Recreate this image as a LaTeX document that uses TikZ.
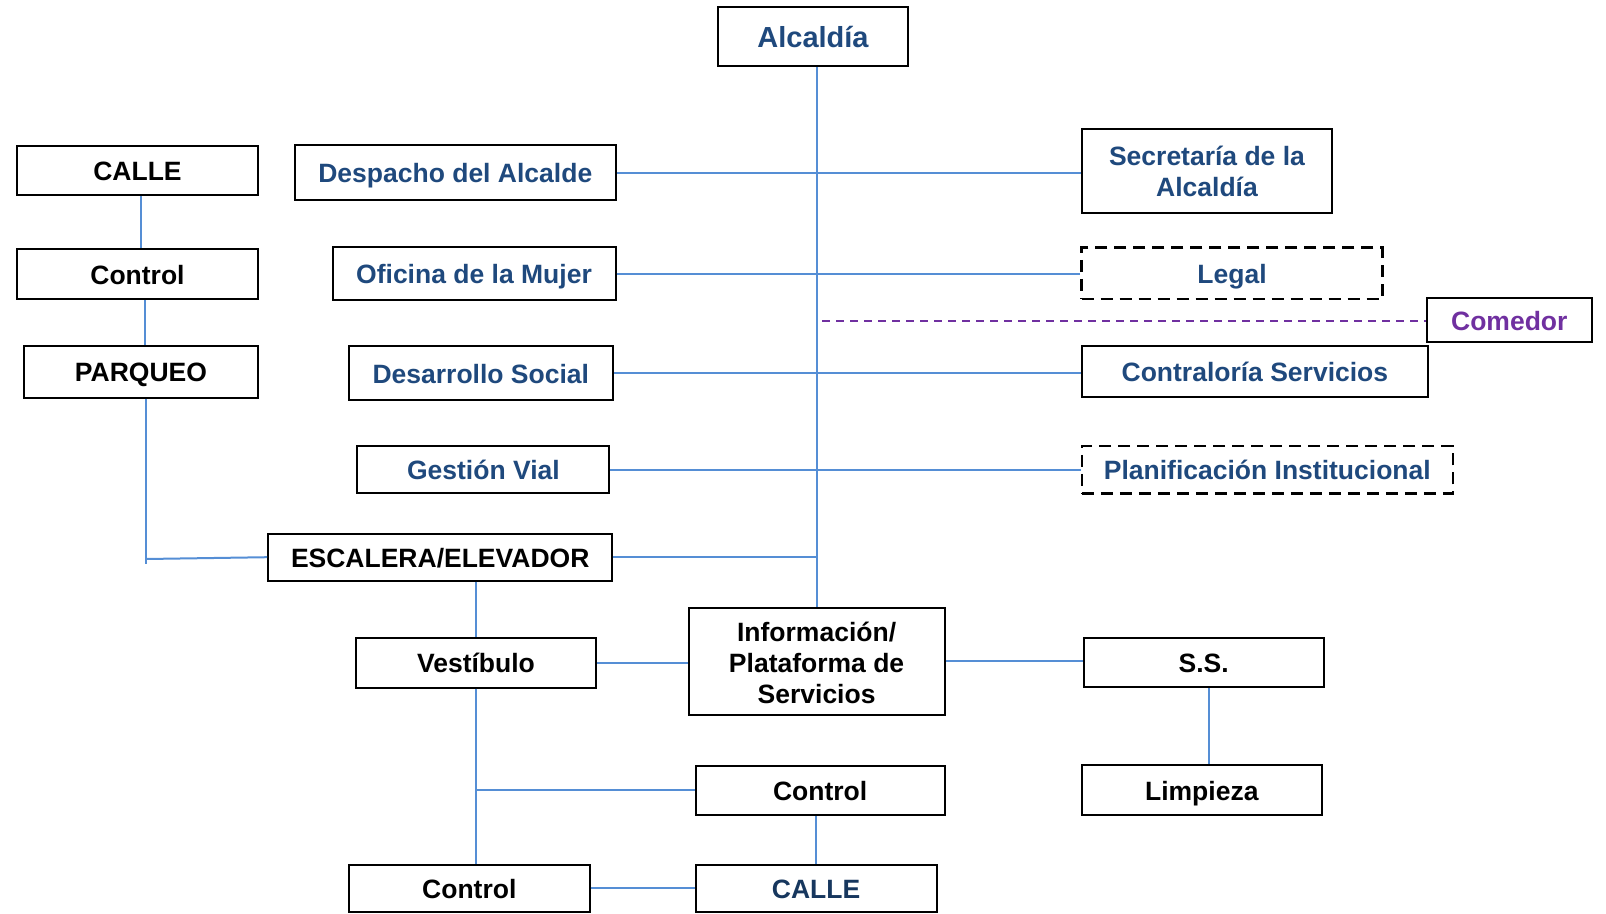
\documentclass[tikz,border=0pt]{standalone}
\usepackage{fontspec}
\setmainfont{Liberation Sans}
\definecolor{tblue}{RGB}{31,73,125}
\definecolor{tblue2}{RGB}{23,55,94}
\definecolor{lblue}{RGB}{85,142,213}
\definecolor{tpurple}{RGB}{112,48,160}
\tikzset{
  mbox/.style={draw=black, line width=2pt, inner sep=0pt, align=center,
    font=\fontsize{26.5}{31}\selectfont\bfseries, fill=white},
  box/.style={mbox, text height=20.5pt, text depth=0.5pt},
  bluebox/.style={box, text=tblue},
  dbox/.style={box, text=tblue, dash pattern=on 12pt off 7pt, line width=2.5pt},
  link/.style={draw=lblue, line width=2pt},
  plink/.style={draw=tpurple, line width=1.8pt, dash pattern=on 8pt off 6pt},
}
\begin{document}
\begin{tikzpicture}[x=1pt,y=-1pt]
\useasboundingbox (0,0) rectangle (1606,913);
% nodes
\node[bluebox, font=\fontsize{29}{33}\selectfont\bfseries, text height=22pt, text depth=0.5pt, minimum width=190pt, minimum height=59pt] (alc) at (813,36.5) {Alcaldía};
\node[box, minimum width=241pt, minimum height=49pt] (calle1) at (137.5,170.5) {CALLE};
\node[bluebox, minimum width=321.5pt, minimum height=55pt] (desp) at (455.3,172.5) {Despacho del Alcalde};
\node[mbox, text=tblue, minimum width=250pt, minimum height=84pt] (sec) at (1207,171) {Secretaría de la\\Alcaldía};
\node[box, minimum width=241pt, minimum height=50pt] (ctrl1) at (137.5,274) {Control};
\node[bluebox, minimum width=283pt, minimum height=53pt] (ofi) at (474,273.7) {Oficina de la Mujer};
\node[dbox, minimum width=300.7pt, minimum height=51.3pt] (legal) at (1232,273.3) {Legal};
\node[box, text=tpurple, minimum width=164.6pt, minimum height=44pt] (com) at (1509.3,320.3) {Comedor};
\node[box, minimum width=234pt, minimum height=51.7pt] (parq) at (141,371.9) {PARQUEO};
\node[bluebox, minimum width=264.5pt, minimum height=54pt] (des) at (480.8,373) {Desarrollo Social};
\node[bluebox, minimum width=346.3pt, minimum height=51pt] (contr) at (1254.9,371.8) {Contraloría Servicios};
\node[bluebox, minimum width=252pt, minimum height=47pt] (gest) at (483.4,469.5) {Gestión Vial};
\node[dbox, minimum width=371pt, minimum height=47.3pt] (plan) at (1267.3,469.7) {Planificación Institucional};
\node[box, minimum width=344pt, minimum height=47pt] (esc) at (440.2,557.2) {ESCALERA/ELEVADOR};
\node[box, minimum width=240.6pt, minimum height=50pt] (vest) at (476,662.7) {Vestíbulo};
\node[mbox, minimum width=256pt, minimum height=107pt] (info) at (816.6,661.4) {\rule{0pt}{23pt}Información/\\Plataforma de\\Servicios};
\node[box, minimum width=240pt, minimum height=49.3pt] (ss) at (1203.6,662.7) {S.S.};
\node[box, minimum width=249pt, minimum height=49.3pt] (ctrl2) at (820.1,790.4) {Control};
\node[box, minimum width=240.3pt, minimum height=49.7pt] (limp) at (1201.8,790.2) {Limpieza};
\node[box, minimum width=240.6pt, minimum height=46.8pt] (ctrl3) at (469.3,888.1) {Control};
\node[box, text=tblue2, minimum width=241pt, minimum height=47pt] (calle2) at (816.1,888) {CALLE};
% coordinates
\coordinate (dstart) at (822,321);
\coordinate (cx) at (140.6,0);
\coordinate (px) at (145,0);
\coordinate (pj) at (146,559);
\coordinate (pend) at (146,564);
% connectors
\draw[link] (alc.south -| info.north) -- (info.north);
\draw[link] (desp.east) -- (desp.east -| sec.west);
\draw[link] (ofi.east) -- (ofi.east -| legal.west);
\draw[link] (des.east) -- (des.east -| contr.west);
\draw[link] (gest.east) -- (gest.east -| plan.west);
\draw[plink] (dstart) -- (dstart -| com.west);
\draw[link] (esc.east) -- (esc.east -| info.north);
\draw[link] (calle1.south -| cx) -- (ctrl1.north -| cx);
\draw[link] (ctrl1.south -| px) -- (parq.north -| px);
\draw[link] (parq.south -| pj) -- (pend);
\draw[link] (pj) -- (esc.west);
\draw[link] (esc.south -| vest.north) -- (vest.north);
\draw[link] (vest.east) -- (vest.east -| info.west);
\draw[link] (info.east) -- (info.east -| ss.west);
\draw[link] ([xshift=5pt]ss.south) -- ([xshift=5pt]ss.south |- limp.north);
\draw[link] (vest.south) -- (vest.south |- ctrl3.north);
\draw[link] (vest.south |- ctrl2.west) -- (ctrl2.west);
\draw[link] (calle2.north |- ctrl2.south) -- (calle2.north);
\draw[link] (ctrl3.east) -- (ctrl3.east -| calle2.west);
\end{tikzpicture}
\end{document}
